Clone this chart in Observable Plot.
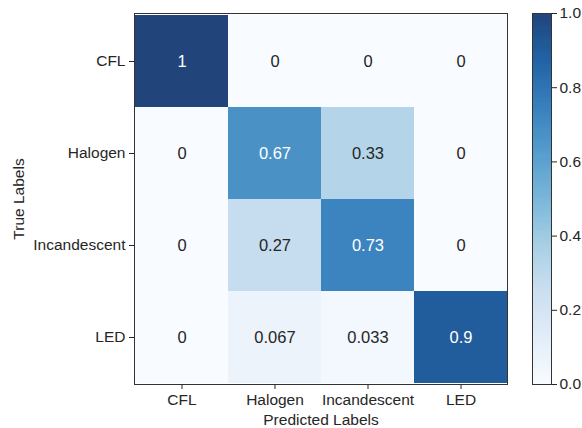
<!DOCTYPE html>
<html>
<head>
<meta charset="utf-8">
<script src="https://cdn.jsdelivr.net/npm/d3@7"></script>
<script src="https://cdn.jsdelivr.net/npm/@observablehq/plot@0.6"></script>
<style>
  html, body { margin: 0; padding: 0; background: #fff; }
  #wrap { position: relative; width: 582px; height: 428px; }
  #wrap svg { position: absolute; left: 0; top: 0; }
</style>
</head>
<body>
<div id="wrap"></div>
<script>
// Class labels (rows = true, columns = predicted)
const trueLabels = ["CFL", "Halogen", "Incandescent", "LED"];
const predLabels = ["CFL", "Halogen", "Incandescent", "LED"];

// Normalized confusion matrix rows
const rowCFL = [1, 0, 0, 0];
const rowHalogen = [0, 0.67, 0.33, 0];
const rowIncandescent = [0, 0.27, 0.73, 0];
const rowLED = [0, 0.067, 0.033, 0.9];

// Colorbar ticks
const cbarTicks = [0, 0.2, 0.4, 0.6, 0.8, 1.0];

const rows = [rowCFL, rowHalogen, rowIncandescent, rowLED];
const cells = [];
rows.forEach((r, i) => r.forEach((v, j) => cells.push({t: trueLabels[i], p: predLabels[j], v})));

// matplotlib "Blues" (linear piecewise over ColorBrewer stops), slightly faded
const bluesStops = ["#f7fbff","#deebf7","#c6dbef","#9ecae1","#6baed6","#4292c6","#2171b5","#08519c","#08306b"];
const blues = d3.piecewise(d3.interpolateRgb, bluesStops);
const faded = t => d3.interpolateRgb("#ffffff", blues(t))(0.9);
const colorOpts = {type: "linear", domain: [0, 1], interpolate: () => faded};

const font = "'Liberation Sans', Arial, sans-serif";
const fs = 15.5;
const W = 582, H = 428;
const mTop = 13, mBottom = 44;

const main = Plot.plot({
  width: W, height: H,
  marginLeft: 134, marginRight: 75, marginTop: mTop, marginBottom: mBottom,
  style: {fontFamily: font, fontSize: fs + "px", color: "#262626", background: "transparent"},
  x: {domain: predLabels, padding: 0},
  y: {domain: trueLabels, padding: 0},
  color: colorOpts,
  marks: [
    Plot.cell(cells, {x: "p", y: "t", fill: "v"}),
    Plot.text(cells, {x: "p", y: "t", text: d => String(d.v),
      fill: d => d.v > 0.5 ? "white" : "#262626", fontSize: 16.5}),
    Plot.frame({stroke: "#333", strokeWidth: 1}),
    Plot.axisX({label: "Predicted Labels", labelAnchor: "center", labelOffset: 40,
      tickSize: 5, tickPadding: 4, fontSize: fs}),
    Plot.axisY({label: "True Labels", labelAnchor: "center", labelOffset: 122,
      tickSize: 5, tickPadding: 4, fontSize: fs})
  ]
});

const step = 0.005;
const stops = d3.range(0, 1, step);
const cbar = Plot.plot({
  width: W, height: H,
  marginLeft: 532, marginRight: 31, marginTop: mTop, marginBottom: mBottom,
  style: {fontFamily: font, fontSize: fs + "px", color: "#262626", background: "transparent"},
  x: {domain: [0, 1], axis: null},
  y: {domain: [0, 1]},
  color: colorOpts,
  marks: [
    Plot.rect(stops, {x1: 0, x2: 1, y1: d => d, y2: d => Math.min(1, d + step + 0.002),
      fill: d => d + step / 2}),
    Plot.frame({stroke: "#333", strokeWidth: 1}),
    Plot.axisY({anchor: "right", ticks: cbarTicks, tickFormat: d3.format(".1f"),
      tickSize: 5, tickPadding: 3, label: null, fontSize: fs})
  ]
});

const wrap = document.getElementById("wrap");
wrap.appendChild(main);
wrap.appendChild(cbar);
</script>
</body>
</html>
